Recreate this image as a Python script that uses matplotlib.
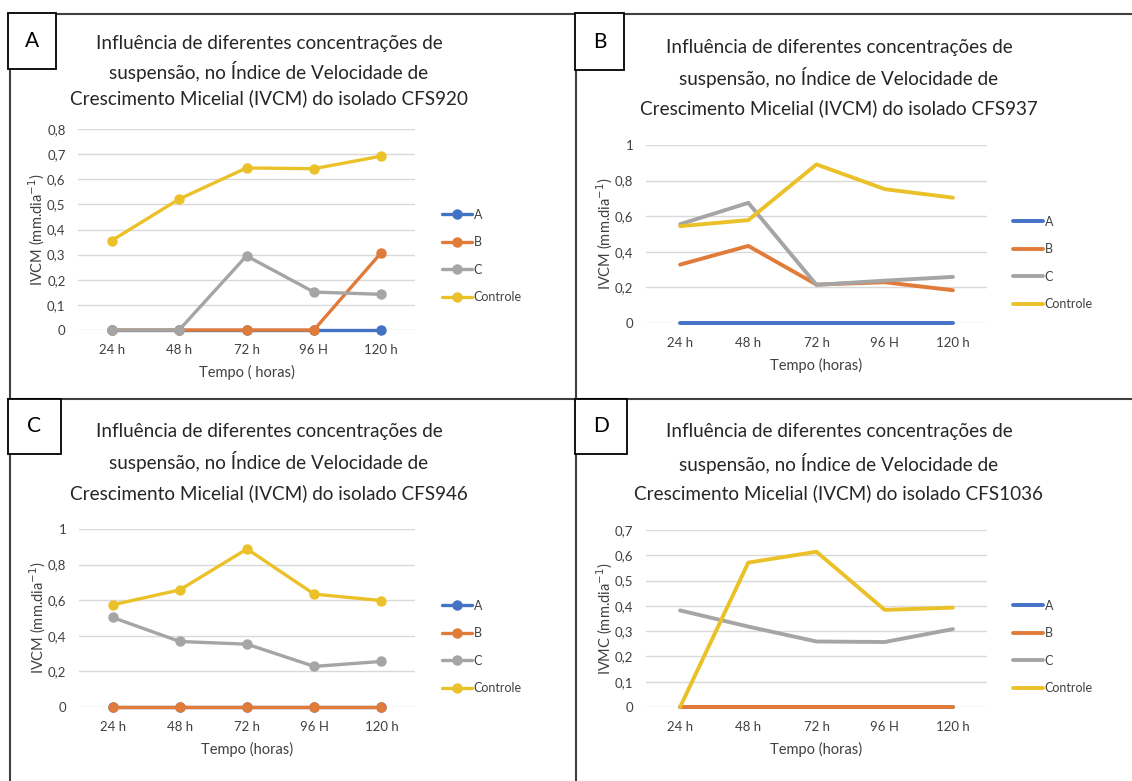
import matplotlib
matplotlib.use('Agg')
import matplotlib.pyplot as plt
from matplotlib.lines import Line2D
from matplotlib.patches import Rectangle
from matplotlib.ticker import FuncFormatter, MultipleLocator

# Categories and series names
hours = ['24 h', '48 h', '72 h', '96 H', '120 h']
series_names = ['A', 'B', 'C', 'Controle']
series_colors = ['#4472C4', '#E07B39', '#A5A5A5', '#EBC12A']

# Isolado CFS920
a_920 = [0, 0, 0, 0, 0]
b_920 = [0, 0, 0, 0, 0.308]
c_920 = [0, 0, 0.295, 0.151, 0.142]
ctrl_920 = [0.356, 0.521, 0.645, 0.642, 0.692]

# Isolado CFS937
a_937 = [0, 0, 0, 0, 0]
b_937 = [0.328, 0.433, 0.216, 0.229, 0.184]
c_937 = [0.555, 0.675, 0.214, 0.238, 0.259]
ctrl_937 = [0.544, 0.578, 0.891, 0.752, 0.704]

# Isolado CFS946
a_946 = [0, 0, 0, 0, 0]
b_946 = [0, 0, 0, 0, 0]
c_946 = [0.503, 0.368, 0.353, 0.228, 0.256]
ctrl_946 = [0.574, 0.658, 0.888, 0.634, 0.598]

# Isolado CFS1036
a_1036 = [0, 0, 0, 0, 0]
b_1036 = [0, 0, 0, 0, 0]
c_1036 = [0.382, 0.318, 0.259, 0.257, 0.308]
ctrl_1036 = [0, 0.571, 0.614, 0.384, 0.393]

W, H = 1132, 781
FONT = 'Lato'
TXT = '#404040'


def fx(x):
    '''Pixel x to figure fraction'''
    return x / W


def fy(y):
    '''Pixel y (from top) to figure fraction'''
    return 1 - y / H


def comma(v, pos):
    return f'{v:g}'.replace('.', ',')


def draw_panel(fig, letter, isolate, data, area, ymax, ystep, title_y,
               cx, ylabel, markers, legend_x, legend_y, box):
    '''
    Draws one Excel style line chart with its title, axis labels,
    legend and the letter box in the corner.
    '''
    x0, y0, x1, y1 = area
    ax = fig.add_axes([fx(x0), fy(y1), fx(x1) - fx(x0), fy(y0) - fy(y1)])
    xs = range(len(hours))

    handles = []
    for name, vals, col in zip(series_names, data, series_colors):
        line, = ax.plot(xs, vals, color=col, lw=2.4 if markers else 2.8,
                        label=name, marker='o' if markers else None,
                        markersize=6.5, solid_capstyle='round',
                        clip_on=False)
        handles.append(line)

    ax.set_xlim(-0.5, len(hours) - 0.5)
    ax.set_ylim(0, ymax)
    ax.yaxis.set_major_locator(MultipleLocator(ystep))
    ax.yaxis.set_major_formatter(FuncFormatter(comma))
    ax.set_xticks(list(xs))
    ax.set_xticklabels(hours)
    ax.grid(axis='y', color='#D9D9D9', lw=1)
    ax.set_axisbelow(True)
    for s in ax.spines.values():
        s.set_visible(False)
    ax.tick_params(axis='both', length=0, labelsize=9.5, labelcolor=TXT)
    ax.tick_params(axis='x', pad=10)
    ax.tick_params(axis='y', pad=9)
    for lab in ax.get_xticklabels() + ax.get_yticklabels():
        lab.set_family(FONT)

    # Title, three lines
    lines = ['Influência de diferentes concentrações de',
             'suspensão, no Índice de Velocidade de',
             'Crescimento Micelial (IVCM) do isolado ' + isolate]
    for t, ty in zip(lines, title_y):
        fig.text(fx(cx), fy(ty), t, ha='center', va='center', fontsize=13.6,
                 family=FONT, color='#262626')

    # Axis labels
    fig.text(fx((x0 + x1) / 2), fy(y1 + 42), 'Tempo (horas)' if letter != 'A'
             else 'Tempo ( horas)', ha='center', va='center', fontsize=10.5,
             family=FONT, color=TXT)
    fig.text(fx(x0 - 41), fy((y0 + y1) / 2), ylabel + r' (mm.dia$^{-1}$)',
             rotation=90, ha='center', va='center', fontsize=10.5,
             family=FONT, color=TXT)

    # Legend
    leg = ax.legend(handles=handles, loc='center left',
                    bbox_to_anchor=(fx(legend_x), fy(legend_y)),
                    bbox_transform=fig.transFigure, frameon=False,
                    handlelength=2.4, handletextpad=0.1, labelspacing=1.25,
                    borderpad=0, prop={'family': FONT, 'size': 9})
    for t in leg.get_texts():
        t.set_color(TXT)

    # Letter box
    bx0, by0, bx1, by1 = box
    fig.add_artist(Rectangle((fx(bx0), fy(by1)), fx(bx1) - fx(bx0),
                             fy(by0) - fy(by1), transform=fig.transFigure,
                             facecolor='white', edgecolor='black', lw=1.3,
                             zorder=5))
    fig.text(fx((bx0 + bx1) / 2), fy((by0 + by1) / 2), letter, ha='center',
             va='center', fontsize=15, family=FONT, color='black', zorder=6)


def main():
    fig = plt.figure(figsize=(W / 100, H / 100), dpi=100)
    fig.patch.set_facecolor('white')

    # Panel frame lines
    frame = [((8, 1132), (14, 14)), ((8, 1132), (399, 399)),
             ((10, 10), (14, 781)), ((576, 576), (14, 781))]
    for xx, yy in frame:
        fig.add_artist(Line2D([fx(v) for v in xx], [fy(v) for v in yy],
                              transform=fig.transFigure, color='#404040',
                              lw=1.5))

    draw_panel(fig, 'A', 'CFS920', [a_920, b_920, c_920, ctrl_920],
               (78, 129, 415, 330), 0.8, 0.1, (43, 71, 98), 269,
               'IVCM', True, 436, 256, (8, 13, 56, 69))
    draw_panel(fig, 'B', 'CFS937', [a_937, b_937, c_937, ctrl_937],
               (646, 145, 987, 323), 1.0, 0.2, (47, 78, 108), 839,
               'IVCM', False, 1007, 263, (575, 13, 624, 70))
    draw_panel(fig, 'C', 'CFS946', [a_946, b_946, c_946, ctrl_946],
               (79, 529, 415, 707), 1.0, 0.2, (431, 462, 493), 269,
               'IVCM', True, 436, 647, (8, 399, 61, 454))
    draw_panel(fig, 'D', 'CFS1036', [a_1036, b_1036, c_1036, ctrl_1036],
               (646, 530, 987, 707), 0.7, 0.1, (431, 463, 493), 839,
               'IVMC', False, 1007, 647, (575, 399, 627, 454))

    fig.savefig('out.png', dpi=100)


if __name__ == '__main__':
    main()
